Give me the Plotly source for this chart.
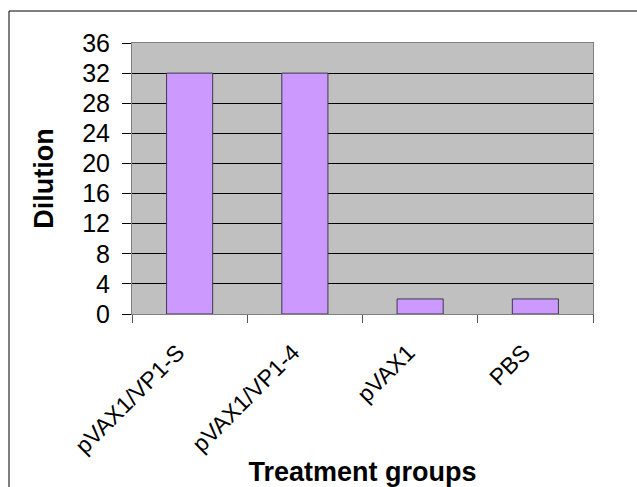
import plotly.graph_objects as go

# Antibody titre by treatment group
groups = ["pVAX1/VP1-S", "pVAX1/VP1-4", "pVAX1", "PBS"]
dilution = [32, 32, 2, 2]
y_ticks = [0, 4, 8, 12, 16, 20, 24, 28, 32, 36]

W, H = 637, 487
ml, mr, mt, mb = 132, 44, 43, 173
pw, ph = W - ml - mr, H - mt - mb

fig = go.Figure()
fig.add_trace(go.Bar(
    x=groups, y=dilution, width=0.4,
    marker=dict(color="#CC99FF", line=dict(color="#3a3a4a", width=1)),
))

font = "Arial, Liberation Sans, sans-serif"
fig.update_layout(
    width=W, height=H,
    margin=dict(l=ml, r=mr, t=mt, b=mb, autoexpand=False),
    paper_bgcolor="white", plot_bgcolor="#C0C0C0",
    showlegend=False, bargap=0.6,
    font=dict(family=font, color="black"),
    xaxis=dict(
        type="category", tickson="boundaries", ticks="outside", ticklen=8,
        tickcolor="#555555", tickangle=-45, tickfont=dict(size=23),
        ticklabelstandoff=15, ticklabelshift=-12, automargin=False,
        showline=True, linecolor="#808080", mirror=True, showgrid=False,
        title=dict(text="<b>Treatment groups</b>", font=dict(size=27), standoff=18),
    ),
    yaxis=dict(
        range=[0, 36], tickvals=y_ticks, ticks="outside", ticklen=9,
        tickcolor="black", tickfont=dict(size=25), ticklabelstandoff=7,
        automargin=False,
        showgrid=True, gridcolor="black", gridwidth=1,
        zeroline=True, zerolinecolor="black", zerolinewidth=1,
        showline=True, linecolor="#808080", mirror=True,
        title=dict(text="<b>Dilution</b>", font=dict(size=27), standoff=20),
    ),
)

# Chart frame: left and top edges of the outer border
frame_x = (9 - ml) / pw
frame_y = 1 + (mt - 11) / ph
fig.add_shape(type="line", xref="paper", yref="paper",
              x0=frame_x, x1=frame_x, y0=-(mb + 50) / ph, y1=frame_y,
              line=dict(color="black", width=1))
fig.add_shape(type="line", xref="paper", yref="paper",
              x0=frame_x, x1=1 + (mr + 50) / pw, y0=frame_y, y1=frame_y,
              line=dict(color="black", width=1))

fig.write_html("out.html")
